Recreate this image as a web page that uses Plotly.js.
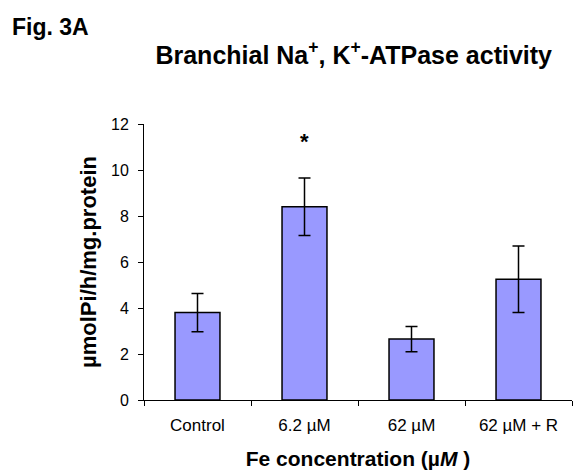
<!DOCTYPE html>
<html>
<head>
<meta charset="utf-8">
<script src="https://cdn.plot.ly/plotly-3.0.1.min.js"></script>
<style>html,body{margin:0;padding:0;background:#fff;}#chart{width:574px;height:472px;}</style>
</head>
<body>
<div id="chart"></div>
<script>
const categories = ['Control', '6.2 µM', '62 µM', '62 µM + R'];
const activity = [3.8, 8.4, 2.65, 5.25];
const errors = [0.83, 1.25, 0.55, 1.45];
const significance = ['', '*', '', ''];
const yTicks = [0, 2, 4, 6, 8, 10, 12];

const FONT = 'Liberation Sans, Arial, sans-serif';

const trace = {
  type: 'bar',
  x: categories,
  y: activity,
  marker: {color: '#9999FF', line: {color: '#000000', width: 1.5}},
  error_y: {type: 'data', array: errors, visible: true, color: '#000000', thickness: 1.5, width: 6},
  hoverinfo: 'x+y'
};

const annotations = [
  {text: '<b>Fig. 3A</b>', xref: 'paper', yref: 'paper', x: -0.313, y: 1.352,
   xanchor: 'left', yanchor: 'middle', showarrow: false, font: {family: FONT, size: 23, color: '#000'}}
];
significance.forEach((s, i) => {
  if (s) annotations.push({text: '<b>' + s + '</b>', x: categories[i], y: activity[i] + errors[i] + 1.6,
    xref: 'x', yref: 'y', showarrow: false, yanchor: 'middle', font: {family: FONT, size: 22, color: '#000'}});
});

const layout = {
  width: 574, height: 472,
  margin: {l: 144, r: 2, t: 124, b: 72},
  paper_bgcolor: '#fff', plot_bgcolor: '#fff',
  font: {family: FONT, color: '#000'},
  showlegend: false,
  bargap: 0.58,
  title: {text: '<b>Branchial Na<sup>+</sup>, K<sup>+</sup>-ATPase activity</b>',
    font: {family: FONT, size: 25, color: '#000'}, xref: 'paper', x: 0.49, xanchor: 'center',
    yref: 'container', y: 0.884, yanchor: 'middle'},
  xaxis: {
    type: 'category', showline: true, linecolor: '#000', linewidth: 1,
    ticks: 'outside', tickson: 'boundaries', ticklen: 5, tickcolor: '#000', tickwidth: 1,
    tickfont: {family: FONT, size: 17, color: '#000'}, ticklabelstandoff: 10,
    showgrid: false, zeroline: false,
    title: {text: '<b>Fe concentration (µ<i>M</i> )</b>', font: {family: FONT, size: 21, color: '#000'}, standoff: 16}
  },
  yaxis: {
    range: [0, 12], tickvals: yTicks, ticktext: yTicks.map(String),
    showline: true, linecolor: '#000', linewidth: 1,
    ticks: 'outside', ticklen: 5, tickcolor: '#000', tickwidth: 1,
    tickfont: {family: FONT, size: 16, color: '#000'}, ticklabelstandoff: 6,
    showgrid: false, zeroline: false,
    title: {text: '<b>µmolPi/h/mg.protein</b>', font: {family: FONT, size: 22, color: '#000'}, standoff: 8}
  },
  annotations: annotations
};

Plotly.newPlot('chart', [trace], layout, {displayModeBar: false, staticPlot: true});
</script>
</body>
</html>
